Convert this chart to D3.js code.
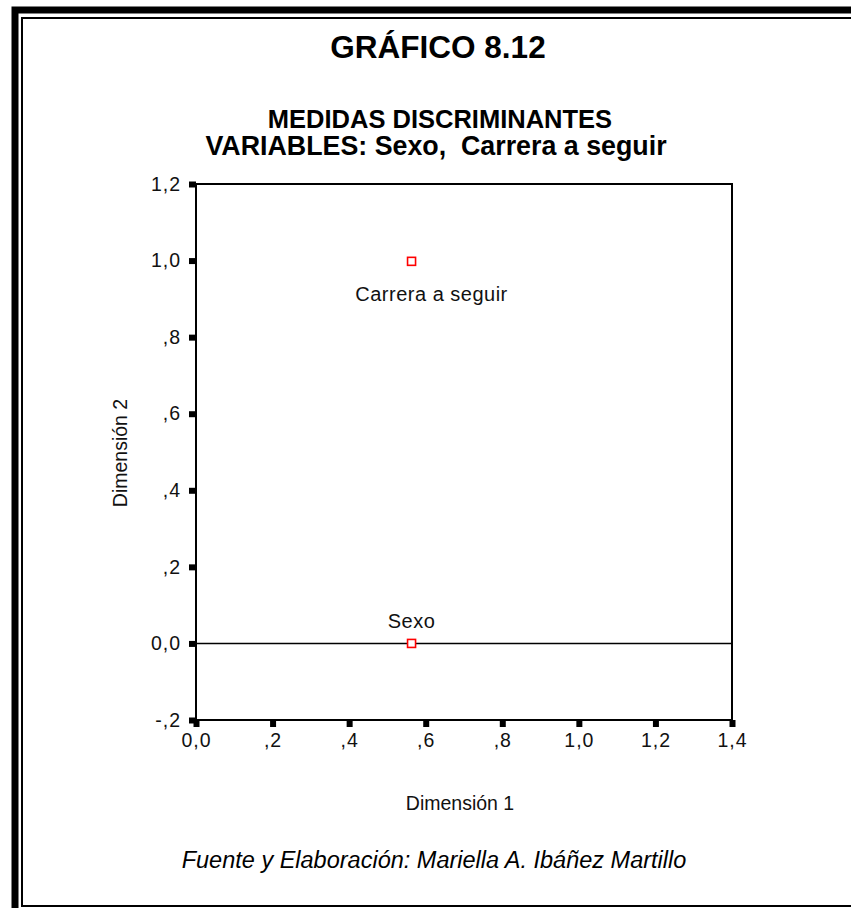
<!DOCTYPE html>
<html><head><meta charset="utf-8">
<script src="https://cdn.jsdelivr.net/npm/d3@7"></script>
<style>
html,body{margin:0;padding:0;background:#fff;overflow:hidden;}
text{font-family:"Liberation Sans",Arial,sans-serif;}
</style></head>
<body>
<script>
const variables = ["Carrera a seguir", "Sexo"];
const dim1 = [0.563, 0.563];
const dim2 = [0.998, 0.000];
const xTicks = [0, 0.2, 0.4, 0.6, 0.8, 1.0, 1.2, 1.4];
const xTickLabels = ["0,0", ",2", ",4", ",6", ",8", "1,0", "1,2", "1,4"];
const yTicks = [-0.2, 0, 0.2, 0.4, 0.6, 0.8, 1.0, 1.2];
const yTickLabels = ["-,2", "0,0", ",2", ",4", ",6", ",8", "1,0", "1,2"];
const title = "GRÁFICO 8.12";
const subtitle1 = "MEDIDAS DISCRIMINANTES";
const subtitle2 = "VARIABLES: Sexo,  Carrera a seguir";
const xTitle = "Dimensión 1";
const yTitle = "Dimensión 2";
const footer = "Fuente y Elaboración: Mariella A. Ibáñez Martillo";

const W = 851, H = 908;
const svg = d3.select("body").append("svg").attr("width", W).attr("height", H);

// frame
svg.append("rect").attr("x", 15).attr("y", 10).attr("width", 900).attr("height", 960)
  .attr("fill", "none").attr("stroke", "#000").attr("stroke-width", 7);
svg.append("rect").attr("x", 22).attr("y", 18).attr("width", 900).attr("height", 888)
  .attr("fill", "none").attr("stroke", "#000").attr("stroke-width", 2);

const x = d3.scaleLinear().domain([0, 1.4]).range([196, 732]);
const y = d3.scaleLinear().domain([-0.2, 1.2]).range([720, 184]);

// titles
svg.append("text").attr("x", 438).attr("y", 58).attr("text-anchor", "middle")
  .attr("font-size", 31.5).attr("font-weight", "bold").text(title);
svg.append("text").attr("x", 440).attr("y", 128).attr("text-anchor", "middle")
  .attr("font-size", 25.5).attr("font-weight", "bold").text(subtitle1);
svg.append("text").attr("x", 436).attr("y", 155).attr("text-anchor", "middle")
  .attr("font-size", 26.8).attr("font-weight", "bold").style("white-space", "pre").text(subtitle2);

// box
svg.append("rect").attr("x", x(0)).attr("y", y(1.2)).attr("width", x(1.4) - x(0)).attr("height", y(-0.2) - y(1.2))
  .attr("fill", "none").attr("stroke", "#000").attr("stroke-width", 2);
// zero line
svg.append("line").attr("x1", x(0)).attr("x2", x(1.4)).attr("y1", y(0)).attr("y2", y(0))
  .attr("stroke", "#000").attr("stroke-width", 1.5);

// axes
const xAxis = d3.axisBottom(x).tickValues(xTicks).tickSize(7).tickPadding(6)
  .tickFormat((d, i) => xTickLabels[i]);
const gx = svg.append("g").attr("transform", `translate(0,${y(-0.2)})`).call(xAxis);
const yAxis = d3.axisLeft(y).tickValues(yTicks).tickSize(7).tickPadding(8)
  .tickFormat((d, i) => yTickLabels[i]);
const gy = svg.append("g").attr("transform", `translate(${x(0)},0)`).call(yAxis);
[gx, gy].forEach(g => {
  g.select(".domain").remove();
  g.selectAll(".tick line").attr("stroke", "#000").attr("stroke-width", 6);
  g.selectAll(".tick text").attr("fill", "#111").attr("font-size", 19.5)
    .attr("font-family", "Liberation Sans, Arial, sans-serif").attr("letter-spacing", 1);
});

// axis titles
svg.append("text").attr("x", 460).attr("y", 810).attr("text-anchor", "middle")
  .attr("font-size", 19.5).attr("fill", "#111").text(xTitle);
svg.append("text").attr("transform", `translate(127,453) rotate(-90)`).attr("text-anchor", "middle")
  .attr("font-size", 19.5).attr("fill", "#111").text(yTitle);

// points
const pts = variables.map((v, i) => ({name: v, d1: dim1[i], d2: dim2[i]}));
svg.selectAll("rect.pt").data(pts).enter().append("rect").attr("class", "pt")
  .attr("x", d => x(d.d1) - 4).attr("y", d => y(d.d2) - 4).attr("width", 8).attr("height", 8)
  .attr("fill", "#fff").attr("stroke", "#ff0000").attr("stroke-width", 1.6);
svg.selectAll("text.lbl").data(pts).enter().append("text").attr("class", "lbl")
  .attr("x", d => x(d.d1) + (d.d2 > 0.5 ? 20 : 0))
  .attr("y", d => y(d.d2) + (d.d2 > 0.5 ? 40 : -15))
  .attr("text-anchor", "middle").attr("font-size", 20).attr("letter-spacing", 0.5)
  .attr("fill", "#111").text(d => d.name);

// footer
svg.append("text").attr("x", 434).attr("y", 868).attr("text-anchor", "middle")
  .attr("font-size", 23.5).attr("font-style", "italic").text(footer);
</script>
</body></html>
